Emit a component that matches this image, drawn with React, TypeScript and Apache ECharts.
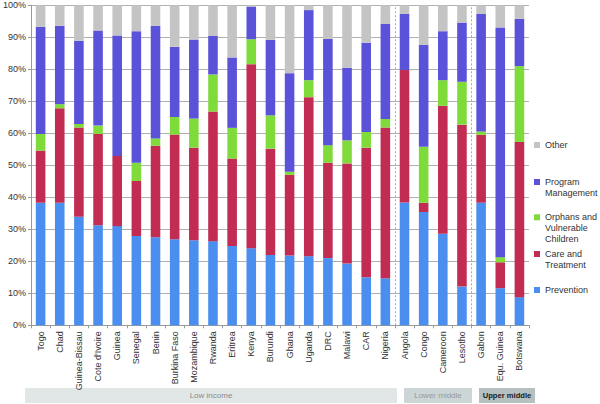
import React, { useEffect, useRef } from "react";
import * as echarts from "echarts";

const countries = [
  "Togo", "Chad", "Guinea-Bissau", "Cote d'Ivoire", "Guinea", "Senegal", "Benin",
  "Burkina Faso", "Mozambique", "Rwanda", "Eritrea", "Kenya", "Burundi", "Ghana",
  "Uganda", "DRC", "Malawi", "CAR", "Nigeria", "Angola", "Congo", "Cameroon",
  "Lesotho", "Gabon", "Equ. Guinea", "Botswana",
];

const prevention = [38.3, 38.3, 33.9, 31.3, 31.0, 27.9, 27.5, 26.9, 26.6, 26.3, 24.8, 24.1, 22.0, 21.8, 21.6, 21.0, 19.3, 15.0, 14.7, 38.4, 35.4, 28.6, 12.1, 38.3, 11.6, 8.8];
const careTreatment = [16.3, 29.5, 27.9, 28.5, 21.9, 17.2, 28.6, 32.7, 28.9, 40.5, 27.3, 57.5, 33.2, 25.2, 49.7, 29.8, 31.3, 40.5, 47.1, 41.4, 2.9, 40.0, 50.6, 21.2, 8.1, 48.5];
const orphans = [5.2, 1.3, 1.1, 2.6, 0, 5.7, 2.3, 5.5, 9.1, 11.6, 9.6, 7.8, 10.4, 1.0, 5.3, 5.5, 7.2, 4.9, 2.7, 0, 17.5, 8.0, 13.4, 1.1, 1.6, 23.7];
const programMgmt = [33.5, 24.5, 26.0, 29.7, 37.7, 41.1, 35.2, 21.9, 24.7, 12.0, 22.0, 10.2, 23.6, 30.8, 21.9, 33.2, 22.7, 27.9, 29.7, 17.5, 31.8, 15.3, 18.5, 36.7, 71.8, 14.8];
const other = [6.7, 6.4, 11.1, 7.9, 9.4, 8.1, 6.4, 13.0, 10.7, 9.6, 16.3, 0.4, 10.8, 21.2, 1.5, 10.5, 19.5, 11.7, 5.8, 2.7, 12.4, 8.1, 5.4, 2.7, 6.9, 4.2];

const groupBreaks = [19, 23];
const incomeGroups = ["Low income", "Lower middle", "Upper middle"];

const FONT = "'Liberation Sans', Arial, Helvetica, sans-serif";

const legendLines: Record<string, string[]> = {
  "Other": ["Other"],
  "Program Management": ["Program", "Management"],
  "Orphans and Vulnerable Children": ["Orphans and", "Vulnerable", "Children"],
  "Care and Treatment": ["Care and", "Treatment"],
  "Prevention": ["Prevention"],
};

export default function App() {
  const ref = useRef<HTMLDivElement>(null);
  useEffect(() => {
    document.body.style.margin = "0";
    if (!ref.current) return;
    const chart = echarts.init(ref.current, undefined, { renderer: "svg" });

    const LH = 11;
    const legendTops: [string, number][] = [
      ["Other", 145],
      ["Program Management", 182],
      ["Orphans and Vulnerable Children", 217.3],
      ["Care and Treatment", 254],
      ["Prevention", 290],
    ];
    const legends = legendTops.map(([name, y]) => {
      const lines = legendLines[name];
      const n = lines.length;
      // pad with empty lines above so the first line sits level with the icon
      const text = new Array(n - 1).fill("").concat(lines).join("\n");
      return {
        orient: "vertical",
        left: 534,
        top: y - ((2 * n - 1) * LH) / 2,
        padding: 0,
        itemWidth: 6,
        itemHeight: 6,
        icon: "rect",
        data: [name],
        selectedMode: false,
        formatter: () => text,
        textStyle: {
          fontFamily: FONT,
          fontSize: 9,
          color: "#333",
          lineHeight: LH,
        },
      };
    });

    const mk = (name: string, data: number[], color: string) => ({
      name,
      type: "bar",
      stack: "total",
      data,
      barWidth: "50%",
      itemStyle: { color },
      xAxisIndex: 0,
      yAxisIndex: 0,
    });

    const boxes = [
      { x: 25, w: 372, fill: "#e1e7e7", color: "#8a8a8a", bold: false },
      { x: 404, w: 68, fill: "#cdd6d6", color: "#999", bold: false },
      { x: 479, w: 56, fill: "#b6c0c0", color: "#1a1a1a", bold: true },
    ];
    const graphics: any[] = [];
    boxes.forEach((b, i) => {
      graphics.push({
        type: "rect",
        shape: { x: b.x, y: 388, width: b.w, height: 15 },
        style: { fill: b.fill },
        silent: true,
      });
      graphics.push({
        type: "text",
        x: b.x + b.w / 2,
        y: 395.5,
        style: {
          text: incomeGroups[i],
          fill: b.color,
          font: `${b.bold ? "bold 7.6px" : "8px"} ${FONT}`,
          align: "center",
          verticalAlign: "middle",
        },
        silent: true,
      });
    });

    chart.setOption({
      animation: false,
      backgroundColor: "#fff",
      grid: { left: 29, right: 71, top: 5.3, bottom: 78.7 },
      legend: legends,
      xAxis: [
        {
          type: "category",
          data: countries,
          axisLine: { lineStyle: { color: "#999" } },
          axisTick: { show: true, length: 3, lineStyle: { color: "#999" } },
          axisLabel: {
            rotate: 90,
            interval: 0,
            margin: 6,
            fontFamily: FONT,
            fontSize: 9,
            color: "#333",
          },
        },
        {
          type: "value",
          min: 0,
          max: countries.length,
          show: false,
        },
      ],
      yAxis: {
        type: "value",
        min: 0,
        max: 100,
        interval: 10,
        axisLine: { show: true, lineStyle: { color: "#999" } },
        axisTick: { show: true, length: 3, lineStyle: { color: "#999" } },
        axisLabel: {
          formatter: "{value}%",
          fontFamily: FONT,
          fontSize: 9,
          color: "#333",
          margin: 5,
        },
        splitLine: { lineStyle: { color: "#b0b0b0", width: 1 } },
      },
      series: [
        mk("Prevention", prevention, "#4a8ff0"),
        mk("Care and Treatment", careTreatment, "#c22b52"),
        mk("Orphans and Vulnerable Children", orphans, "#7fdb3a"),
        mk("Program Management", programMgmt, "#5a52d8"),
        mk("Other", other, "#c4c4c4"),
        {
          name: "breaks",
          type: "line",
          xAxisIndex: 1,
          yAxisIndex: 0,
          data: [],
          silent: true,
          markLine: {
            symbol: "none",
            silent: true,
            label: { show: false },
            lineStyle: { color: "#aaa", type: [2, 2], width: 1 },
            data: groupBreaks.map((b) => ({ xAxis: b })),
          },
        },
      ],
      graphic: graphics,
    });
    return () => chart.dispose();
  }, []);
  return <div ref={ref} style={{ width: 600, height: 404 }} />;
}
